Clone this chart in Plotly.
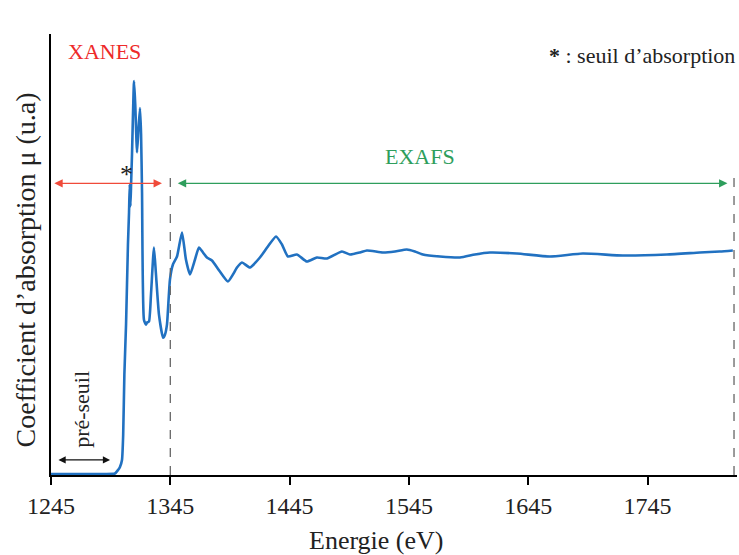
import plotly.graph_objects as go

# spectre XAS (énergie en eV, absorption en unités arbitraires)
energie = [1245, 1270, 1290, 1298.6, 1301.2, 1302.8, 1304.5, 1305.5, 1306.5, 1307.9,
           1309.5, 1310.4, 1311.0, 1311.6, 1312.2, 1312.9, 1314.6, 1315.6, 1317.1, 1318.3,
           1319.6, 1320.5, 1321.3, 1322.9, 1324.6, 1325.4, 1327.1, 1328.8, 1331.3, 1333.0,
           1335.5, 1338.9, 1340.5, 1342.2, 1344.7, 1347.2, 1350.6, 1354.8, 1358.1, 1361.5,
           1365.7, 1369.0, 1372.4, 1375.7, 1379.9, 1386.6, 1393.3, 1397.5, 1400.9, 1405.1,
           1411.8, 1420.1, 1426.8, 1433.6, 1438.6, 1443.6, 1451.1, 1459.5, 1467.9, 1476.3,
           1488.9, 1495.6, 1504.0, 1509.8, 1523.2, 1533.3, 1543.3, 1550.0, 1556.7, 1571.0,
           1587.8, 1600.3, 1612.9, 1635.5, 1663.2, 1690.8, 1724.3, 1761.2, 1788.9, 1805.6,
           1816.5]
mu = [1, 1, 1, 1.5, 5, 8, 15, 40, 100, 150,
      230, 262, 290, 268, 293, 320, 393, 370, 322, 345,
      366, 340, 282, 155, 150, 152, 153, 180, 227, 200,
      160, 137, 140, 150, 195, 210, 218, 242, 215, 200,
      215, 227, 222, 217, 214, 203, 193, 200, 207, 212,
      207, 217, 228, 238, 230, 218, 220, 213, 217, 216,
      223, 220, 222, 224, 222, 223, 225, 223, 220, 218,
      217, 220, 222, 221, 218, 221, 219, 220, 222, 223,
      224]

ticks = [1245, 1345, 1445, 1545, 1645, 1745]
x_min, x_max = 1245, 1820
y_max = 440

seuil_xanes = 1345   # limite XANES / EXAFS
fin_exafs = 1817.5

SERIF = "Liberation Serif"

fig = go.Figure()
fig.add_trace(go.Scatter(x=energie, y=mu, mode="lines",
                         line=dict(color="#2171c1", width=2.6, shape="spline", smoothing=0.5),
                         showlegend=False, hoverinfo="skip"))

# lignes verticales pointillées
for xv in [seuil_xanes, fin_exafs]:
    fig.add_shape(type="line", x0=xv, x1=xv, y0=0, y1=303, xref="x", yref="y",
                  line=dict(color="#666666", width=1.3, dash="dash"))

def fleche(x0, x1, y, color, width=1.4):
    fig.add_annotation(x=x1, y=y, ax=x0, ay=y, xref="x", yref="y", axref="x", ayref="y",
                       text="", showarrow=True, arrowhead=2, startarrowhead=2,
                       arrowside="end+start", arrowsize=1.2, arrowwidth=width,
                       arrowcolor=color, startstandoff=0, standoff=0)

fleche(1246.5, 1338, 291, "#f04a3a")
fleche(1350, 1812, 291, "#2e9e5c")
fleche(1250, 1294.5, 15, "#111111", 1.2)

fig.add_annotation(x=1290, y=423, text="XANES", showarrow=False,
                   font=dict(family=SERIF, size=22, color="#ee2a2a"))
fig.add_annotation(x=1554, y=318, text="EXAFS", showarrow=False,
                   font=dict(family=SERIF, size=22, color="#2e9e5c"))
fig.add_annotation(x=1308, y=300, text="*", showarrow=False,
                   font=dict(family=SERIF, size=26, color="#222222"))
fig.add_annotation(x=1, y=419, xref="paper", yref="y", xanchor="right",
                   text="<b>*</b> : seuil d’absorption", showarrow=False,
                   font=dict(family=SERIF, size=22, color="#222222"))
fig.add_annotation(x=1271, y=65, text="pré-seuil", textangle=-90, showarrow=False,
                   font=dict(family=SERIF, size=22, color="#222222"))

# titres des axes
fig.add_annotation(x=1518, y=-0.148, xref="x", yref="paper", yanchor="middle",
                   text="Energie (eV)", showarrow=False,
                   font=dict(family=SERIF, size=26, color="#222222"))
fig.add_annotation(x=-0.0365, y=0.466, xref="paper", yref="paper", textangle=-90,
                   xanchor="center", yanchor="middle",
                   text="Coefficient d’absorption μ (u.a)", showarrow=False,
                   font=dict(family=SERIF, size=28, color="#222222"))

fig.update_xaxes(range=[x_min, x_max], tickvals=ticks, showgrid=False, zeroline=False,
                 showline=True, linecolor="black", linewidth=2,
                 ticks="outside", ticklen=8, tickwidth=2, tickcolor="black",
                 tickfont=dict(family=SERIF, size=24, color="#222222"))
fig.update_yaxes(range=[0, y_max], showgrid=False, zeroline=False, showticklabels=False,
                 showline=True, linecolor="black", linewidth=2, ticks="")

fig.update_layout(width=739, height=555, margin=dict(l=51, r=2, t=34, b=80),
                  plot_bgcolor="white", paper_bgcolor="white")

fig.write_html("out.html", config={"displayModeBar": False},
               post_script="document.body.style.margin='0';")
